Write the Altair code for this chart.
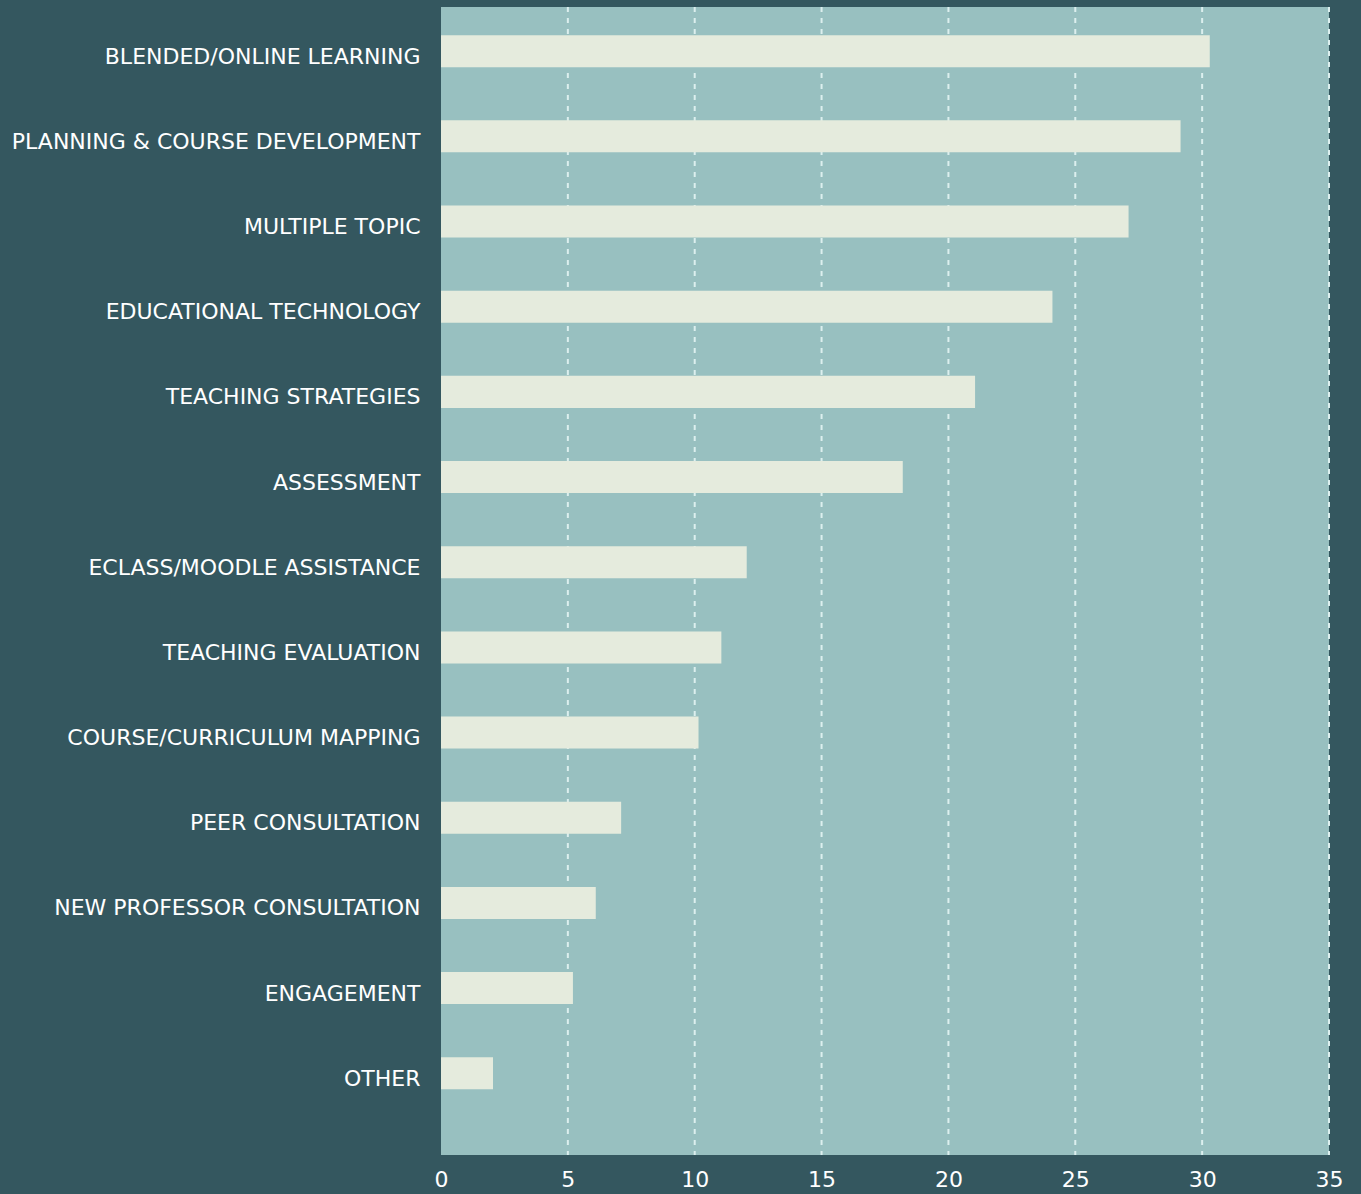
import altair as alt
import pandas as pd

categories = [
    "BLENDED/ONLINE LEARNING",
    "PLANNING & COURSE DEVELOPMENT",
    "MULTIPLE TOPIC",
    "EDUCATIONAL TECHNOLOGY\u2002",
    "TEACHING STRATEGIES",
    "ASSESSMENT",
    "ECLASS/MOODLE ASSISTANCE\u2002",
    "TEACHING EVALUATION",
    "COURSE/CURRICULUM MAPPING",
    "PEER CONSULTATION",
    "NEW PROFESSOR CONSULTATION",
    "ENGAGEMENT",
    "OTHER",
]
values = [30.3, 29.15, 27.1, 24.1, 21.05, 18.2, 12.05, 11.05, 10.15, 7.1, 6.1, 5.2, 2.05]
grid_values = [5, 10, 15, 20, 25, 30, 35]
tick_values = [0, 5, 10, 15, 20, 25, 30, 35]

BG = "#34575f"
PLOT = "#98c0c0"
BAR = "#e5ebdd"
GRID = "#dcefee"
FONT = "DejaVu Sans"

df = pd.DataFrame({"category": categories, "value": values})
gdf = pd.DataFrame({"g": grid_values})

xscale = alt.Scale(domain=[0, 35], nice=False, zero=True)
xaxis = alt.Axis(
    title=None,
    values=tick_values,
    grid=False,
    ticks=False,
    domain=False,
    labelColor="white",
    labelFont=FONT,
    labelFontSize=22,
    labelFlush=False,
    labelPadding=14,
    labelBaseline="top",
)

grid = alt.Chart(gdf).mark_rule(
    color=GRID, strokeWidth=2, strokeDash=[5, 6]
).encode(
    x=alt.X("g:Q", scale=xscale, axis=xaxis)
)

bars = alt.Chart(df).mark_bar(color=BAR, cornerRadius=0).encode(
    x=alt.X("value:Q", scale=xscale, axis=xaxis),
    y=alt.Y(
        "category:N",
        sort=None,
        scale=alt.Scale(paddingInner=0.624, paddingOuter=0.551, align=0.3),
        axis=alt.Axis(
            title=None,
            ticks=False,
            domain=False,
            grid=False,
            labelColor="white",
            labelFont=FONT,
            labelFontSize=22,
            labelPadding=21,
            labelOffset=5.5,
            labelLimit=500,
        ),
    ),
)

chart = alt.layer(grid, bars).properties(
    width=888,
    height=1148,
    background=BG,
    padding={"left": 441, "top": 7, "right": 32, "bottom": 39},
    autosize=alt.AutoSizeParams(type="none"),
).configure_view(fill=PLOT, stroke=None)

chart.save("out.html", embed_options={"renderer": "svg", "actions": False})
